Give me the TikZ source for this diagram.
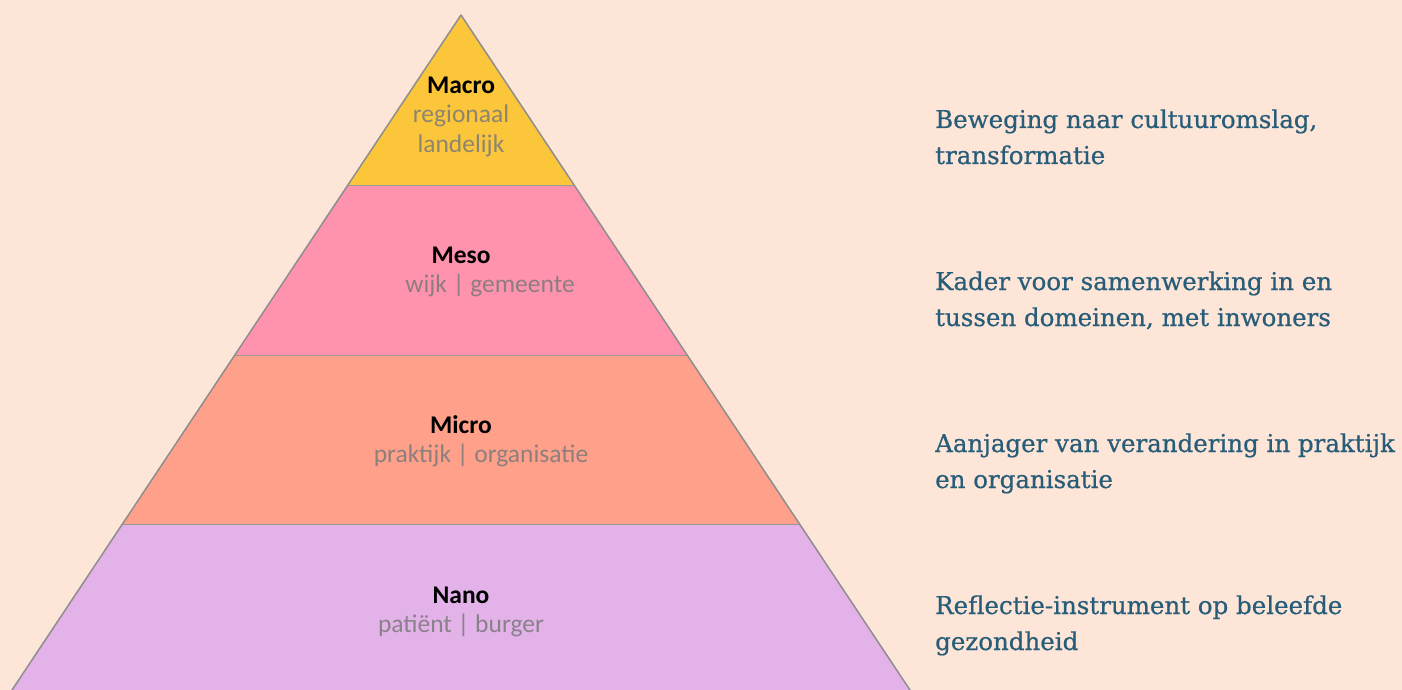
\documentclass[tikz,border=0pt]{standalone}
\usepackage{fontspec}
\newfontfamily\carlito{Carlito}
\newfontfamily\slabfont[FakeBold=0.6]{DejaVu Serif}
\definecolor{bgc}{HTML}{FDE5D8}
\definecolor{macroc}{HTML}{FCC63A}
\definecolor{mesoc}{HTML}{FF93AD}
\definecolor{microc}{HTML}{FEA08A}
\definecolor{nanoc}{HTML}{E2B2E8}
\definecolor{edgec}{HTML}{8E8E8E}
\definecolor{subc}{HTML}{7A7A7A}
\definecolor{tealc}{HTML}{285D79}
\begin{document}
\begin{tikzpicture}[x=1pt,y=-1pt,
  title/.style={anchor=base,inner sep=0pt,font=\carlito\bfseries\fontsize{25.5}{29}\selectfont,text=black},
  sub/.style={anchor=base,inner sep=0pt,font=\carlito\fontsize{25.5}{29}\selectfont,text=subc,text opacity=0.85},
  desc/.style={anchor=base west,inner sep=0pt,font=\slabfont\fontsize{24.5}{36}\selectfont,text=tealc}]
\useasboundingbox (0,0) rectangle (1402,690);
\fill[bgc] (0,0) rectangle (1402,690);
\begin{scope}
\clip (0,0) rectangle (1402,690);
\coordinate (apex) at (461,15);
\coordinate (l1) at (347.9,185); \coordinate (r1) at (574.1,185);
\coordinate (l2) at (234.8,355); \coordinate (r2) at (687.2,355);
\coordinate (l3) at (122.4,524); \coordinate (r3) at (799.6,524);
\coordinate (l4) at (8.7,695);   \coordinate (r4) at (913.3,695);
\fill[macroc] (apex) -- (r1) -- (l1) -- cycle;
\fill[mesoc] (l1) -- (r1) -- (r2) -- (l2) -- cycle;
\fill[microc] (l2) -- (r2) -- (r3) -- (l3) -- cycle;
\fill[nanoc] (l3) -- (r3) -- (r4) -- (l4) -- cycle;
\draw[edgec!90,line width=0.8pt] (l1) -- (r1) (l2) -- (r2) (l3) -- (r3);
\draw[edgec,line width=1.5pt,line join=round] (l4) -- (apex) -- (r4);
\end{scope}
% pyramid labels
\node[title] (macro) at (461,94) {Macro};
\node[sub] (macro1) at (461,123) {regionaal};
\node[sub] (macro2) at (461,152) {landelijk};
\node[title] (meso) at (461,263) {Meso};
\node[sub] (meso1) at (490,292) {wijk | gemeente};
\node[title] (micro) at (461,433) {Micro};
\node[sub] (micro1) at (481,462) {praktijk | organisatie};
\node[title] (nano) at (461,603) {Nano};
\node[sub] (nano1) at (461,632) {patiënt | burger};
% descriptions
\node[desc] (d1a) at (935,128) {Beweging naar cultuuromslag,};
\node[desc] (d1b) at (935,164) {transformatie};
\node[desc] (d2a) at (935,290) {Kader voor samenwerking in en};
\node[desc] (d2b) at (935,326) {tussen domeinen, met inwoners};
\node[desc] (d3a) at (935,452) {Aanjager van verandering in praktijk};
\node[desc] (d3b) at (935,488) {en organisatie};
\node[desc] (d4a) at (935,614) {Reflectie-instrument op beleefde};
\node[desc] (d4b) at (935,650) {gezondheid};
\end{tikzpicture}
\end{document}
